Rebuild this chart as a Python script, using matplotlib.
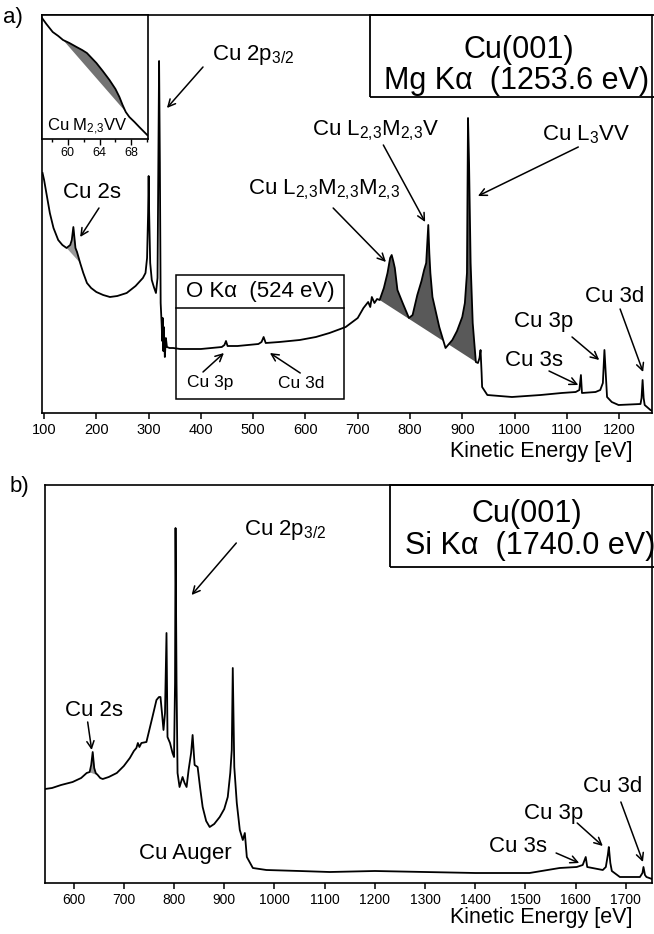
import matplotlib
matplotlib.use('Agg')
import matplotlib.pyplot as plt
import numpy as np
from matplotlib.patches import Rectangle

plt.rcParams['font.family'] = ['Liberation Sans', 'DejaVu Sans']
plt.rcParams['mathtext.fontset'] = 'custom'
plt.rcParams['mathtext.rm'] = 'Liberation Sans'
plt.rcParams['mathtext.it'] = 'Liberation Sans:italic'
plt.rcParams['mathtext.bf'] = 'Liberation Sans:bold'

# ---------------- data: panel a (Mg K alpha) ----------------
energy_a = [97, 100, 105, 111, 118, 127, 135, 143, 150, 153, 156, 158, 160, 163, 169,
            175, 182, 190, 200, 213, 226, 240, 258, 275, 289, 294, 297, 299, 300, 301,
            303, 306, 310, 314, 317, 318.5, 320, 321.5, 323, 325, 326, 327, 328, 329,
            331, 333, 335, 340, 347, 360, 380, 400, 420, 440, 445, 448, 451, 470, 490,
            510, 516, 520, 524, 550, 589, 620, 646, 677, 700, 711, 720, 724, 727, 732,
            737, 742, 750, 757, 762, 765, 768, 771, 776, 786, 798, 805, 814, 822, 827,
            831, 833, 835, 837, 839, 843, 856, 868, 881, 890, 900, 905, 909, 911, 913,
            916, 920, 926, 930, 933, 935, 937, 938, 948, 995, 1050, 1090, 1117, 1124,
            1127, 1129, 1155, 1164, 1169, 1172, 1175, 1177, 1186, 1199, 1241, 1243,
            1245, 1247, 1249, 1260, 1264]
intensity_a = [240, 233, 218, 200, 185, 173, 168, 165, 168, 173, 186, 175, 165, 161, 150,
               140, 130, 125, 121, 118, 116, 117, 120, 127, 135, 140, 155, 200, 237, 200,
               150, 133, 126, 120, 135, 250, 352, 250, 110, 88, 72, 95, 62, 86,
               56, 75, 66, 65, 65, 64, 64, 64, 65, 66, 68, 72, 67, 67, 68,
               69, 71, 76, 70, 71, 73, 76, 80, 86, 95, 105, 111, 106, 116, 110,
               114, 113, 125, 140, 155, 158, 152, 145, 123, 110, 95, 98, 118, 132, 143,
               150, 170, 188, 160, 140, 116, 86, 65, 73, 82, 96, 110, 140, 295, 250,
               150, 90, 51, 50, 55, 63, 40, 26, 18, 16, 18, 20, 21, 23,
               38, 20, 21, 23, 30, 63, 35, 16, 11, 8, 9, 15,
               33, 15, 8, 3, 2]
# straight backgrounds under shaded features
bg_2s_a_energy = [143, 169]
bg_2s_a_intensity = [165, 150]
bg_auger_a_energy = [742, 926]
bg_auger_a_intensity = [113, 51]
ticks_a = [100, 200, 300, 400, 500, 600, 700, 800, 900, 1000, 1100, 1200]

# inset: Cu M2,3VV
energy_inset = [56.75, 57.3, 58.1, 58.8, 59.4, 60.2, 61.1, 61.8, 62.4, 63.0, 63.6, 64.4,
                65.25, 66.0, 66.5, 66.9, 67.3, 67.75, 68.4, 69.0, 69.5, 70.0]
intensity_inset = [121, 115, 107, 103, 99, 96, 92, 89, 86, 81, 76, 68,
                   59, 50, 42, 34, 27, 22, 17, 12, 8, 4]
bg_inset_energy = [59.4, 67.3]
bg_inset_intensity = [99, 27]
ticks_inset = [60, 64, 68]
minor_ticks_inset = [58, 62, 66, 70]

# ---------------- data: panel b (Si K alpha) ----------------
energy_b = [543, 557, 575, 598, 615, 626, 632, 635, 638, 641, 644, 648, 653, 658, 670,
            686, 700, 712, 720, 725, 728, 731, 735, 745, 757, 765, 770, 773, 776, 779,
            782, 785, 787, 792, 797, 800, 802, 803, 805, 807, 811, 817, 821, 825, 829,
            834, 837, 841, 847, 852, 857, 864, 871, 880, 891, 900, 907, 912, 915, 917,
            920, 925, 931, 937, 941, 945, 957, 984, 1050, 1110, 1200, 1300, 1400, 1508,
            1568, 1602, 1614, 1617, 1620, 1623, 1654, 1660, 1664, 1666, 1669, 1672, 1688,
            1728, 1733, 1735, 1738, 1741, 1752]
intensity_b = [94, 95, 98, 101, 105, 110, 111, 118, 131, 115, 110, 108, 105, 104, 106,
               110, 117, 125, 132, 135, 140, 136, 140, 141, 166, 183, 186, 186, 170, 153,
               170, 250, 146, 140, 130, 126, 200, 355, 200, 110, 96, 106, 100, 96, 113,
               130, 148, 118, 116, 95, 76, 62, 56, 59, 66, 74, 86, 110, 133, 215,
               116, 80, 53, 43, 50, 26, 15, 13, 12, 11, 12, 11, 10, 10,
               15, 16, 18, 22, 26, 16, 13, 16, 28, 36, 20, 12, 6,
               6, 10, 16, 8, 6, 4]
bg_2s_b_energy = [632, 648]
bg_2s_b_intensity = [111, 108]
ticks_b = [600, 700, 800, 900, 1000, 1100, 1200, 1300, 1400, 1500, 1600, 1700]

# ---------------- figure ----------------
W, H = 654, 934
fig = plt.figure(figsize=(W / 100, H / 100), dpi=100)

def fig_rect(x0, y0, x1, y1):
    return [x0 / W, 1 - y1 / H, (x1 - x0) / W, (y1 - y0) / H]

ax_a = fig.add_axes(fig_rect(42, 15, 652, 413))
ax_b = fig.add_axes(fig_rect(45, 485, 652, 883))
ax_in = fig.add_axes(fig_rect(42, 15, 148, 139))

LW = 1.3
ARROW = dict(arrowstyle='->', lw=1.1, color='black', shrinkA=0, shrinkB=0,
             mutation_scale=13)
SUB = '{,}'


def shade(ax, e, i, be, bi, color):
    e = np.asarray(e, float)
    i = np.asarray(i, float)
    m = (e >= be[0]) & (e <= be[1])
    base = np.interp(e[m], be, bi)
    ax.fill_between(e[m], base, i[m], where=i[m] >= base, interpolate=True,
                    color=color, lw=0, zorder=1)


def style(ax, xlim, ticks, fs):
    ax.set_xlim(*xlim)
    ax.set_ylim(0, 398)
    ax.set_yticks([])
    ax.set_xticks(ticks)
    ax.tick_params(axis='x', direction='out', length=4, width=1.1,
                   labelsize=fs, pad=3)
    for s in ax.spines.values():
        s.set_linewidth(1.2)


# ----- panel a -----
ax_a.plot(energy_a, intensity_a, color='black', lw=LW, zorder=3)
shade(ax_a, energy_a, intensity_a, bg_2s_a_energy, bg_2s_a_intensity, '0.6')
shade(ax_a, energy_a, intensity_a, bg_auger_a_energy, bg_auger_a_intensity, '0.35')
style(ax_a, (96, 1263), ticks_a, 10.5)

lab = 16
ax_a.text(421, 358, r'Cu 2p$_{3/2}$', fontsize=lab, ha='left', va='center')
ax_a.annotate('', xy=(335, 305), xytext=(404, 346), arrowprops=ARROW)
ax_a.text(192, 220, 'Cu 2s', fontsize=lab, ha='center', va='center')
ax_a.annotate('', xy=(169, 176), xytext=(205, 205), arrowprops=ARROW)
ax_a.text(490, 223, r'Cu L$_{2%s3}$M$_{2%s3}$M$_{2%s3}$' % (SUB, SUB, SUB),
          fontsize=lab, ha='left', va='center')
ax_a.annotate('', xy=(754, 151), xytext=(653, 205), arrowprops=ARROW)
ax_a.text(613, 282, r'Cu L$_{2%s3}$M$_{2%s3}$V' % (SUB, SUB), fontsize=lab,
          ha='left', va='center')
ax_a.annotate('', xy=(829, 191), xytext=(749, 268), arrowprops=ARROW)
ax_a.text(1053, 278, r'Cu L$_3$VV', fontsize=lab, ha='left', va='center')
ax_a.annotate('', xy=(930, 217), xytext=(1122, 266), arrowprops=ARROW)
ax_a.text(1192, 117, 'Cu 3d', fontsize=lab, ha='center', va='center')
ax_a.annotate('', xy=(1246, 41), xytext=(1202, 104), arrowprops=ARROW)
ax_a.text(1055, 92, 'Cu 3p', fontsize=lab, ha='center', va='center')
ax_a.annotate('', xy=(1162, 53), xytext=(1110, 76), arrowprops=ARROW)
ax_a.text(1037, 52, 'Cu 3s', fontsize=lab, ha='center', va='center')
ax_a.annotate('', xy=(1122, 28), xytext=(1066, 42), arrowprops=ARROW)

# O K alpha box
ax_a.add_patch(Rectangle((353, 14), 674 - 353, 138 - 14, fill=False, lw=1.1,
                         ec='black', zorder=4))
ax_a.plot([353, 674], [105, 105], color='black', lw=1.1, zorder=4)
ax_a.text(513, 122, 'O Kα  (524 eV)', fontsize=16, ha='center', va='center')
ax_a.text(418, 30, 'Cu 3p', fontsize=12.5, ha='center', va='center')
ax_a.annotate('', xy=(444, 60), xytext=(404, 41), arrowprops=ARROW)
ax_a.text(592, 30, 'Cu 3d', fontsize=12.5, ha='center', va='center')
ax_a.annotate('', xy=(532, 60), xytext=(590, 40), arrowprops=ARROW)

# title box a
ax_a.add_patch(Rectangle((0.538, 0.794), 0.6, 0.206, transform=ax_a.transAxes,
                         fill=False, lw=1.3, ec='black', clip_on=False, zorder=5))
ax_a.text(0.782, 0.912, 'Cu(001)', transform=ax_a.transAxes, fontsize=22,
          ha='center', va='center')
ax_a.text(0.778, 0.834, 'Mg Kα  (1253.6 eV)', transform=ax_a.transAxes, fontsize=22,
          ha='center', va='center')

fig.text(633 / W, 1 - 451 / H, 'Kinetic Energy [eV]', fontsize=15.5, ha='right', va='center')
fig.text(13 / W, 1 - 17 / H, 'a)', fontsize=16, ha='center', va='center')

# ----- inset -----
ax_in.plot(energy_inset, intensity_inset, color='black', lw=LW, zorder=3)
shade(ax_in, energy_inset, intensity_inset, bg_inset_energy, bg_inset_intensity, '0.45')
ax_in.set_xlim(56.75, 70.1)
ax_in.set_ylim(0, 124)
ax_in.set_yticks([])
ax_in.set_xticks(ticks_inset)
ax_in.set_xticks(minor_ticks_inset, minor=True)
ax_in.tick_params(axis='x', which='major', direction='out', length=4, width=1,
                  labelsize=9, pad=2)
ax_in.tick_params(axis='x', which='minor', direction='out', length=2.5, width=1)
for s in ax_in.spines.values():
    s.set_linewidth(1.2)
ax_in.text(0.05, 0.1, r'Cu M$_{2%s3}$VV' % SUB, transform=ax_in.transAxes, fontsize=12,
           ha='left', va='center')

# ----- panel b -----
ax_b.plot(energy_b, intensity_b, color='black', lw=LW, zorder=3)
shade(ax_b, energy_b, intensity_b, bg_2s_b_energy, bg_2s_b_intensity, '0.6')
style(ax_b, (543, 1752), ticks_b, 10)

ax_b.text(940, 353, r'Cu 2p$_{3/2}$', fontsize=lab, ha='left', va='center')
ax_b.annotate('', xy=(835, 288), xytext=(924, 340), arrowprops=ARROW)
ax_b.text(640, 173, 'Cu 2s', fontsize=lab, ha='center', va='center')
ax_b.annotate('', xy=(636, 133), xytext=(628, 161), arrowprops=ARROW)
ax_b.text(823, 30, 'Cu Auger', fontsize=lab, ha='center', va='center')
ax_b.text(1674, 97, 'Cu 3d', fontsize=lab, ha='center', va='center')
ax_b.annotate('', xy=(1734, 21), xytext=(1690, 81), arrowprops=ARROW)
ax_b.text(1557, 70, 'Cu 3p', fontsize=lab, ha='center', va='center')
ax_b.annotate('', xy=(1654, 37), xytext=(1603, 60), arrowprops=ARROW)
ax_b.text(1485, 37, 'Cu 3s', fontsize=lab, ha='center', va='center')
ax_b.annotate('', xy=(1607, 20), xytext=(1561, 30), arrowprops=ARROW)

ax_b.add_patch(Rectangle((0.568, 0.794), 0.6, 0.206, transform=ax_b.transAxes,
                         fill=False, lw=1.3, ec='black', clip_on=False, zorder=5))
ax_b.text(0.794, 0.927, 'Cu(001)', transform=ax_b.transAxes, fontsize=22,
          ha='center', va='center')
ax_b.text(0.800, 0.846, 'Si Kα  (1740.0 eV)', transform=ax_b.transAxes, fontsize=22,
          ha='center', va='center')

fig.text(633 / W, 1 - 917 / H, 'Kinetic Energy [eV]', fontsize=15.5, ha='right', va='center')
fig.text(19 / W, 1 - 486 / H, 'b)', fontsize=16, ha='center', va='center')

fig.savefig('out.png', dpi=100)
